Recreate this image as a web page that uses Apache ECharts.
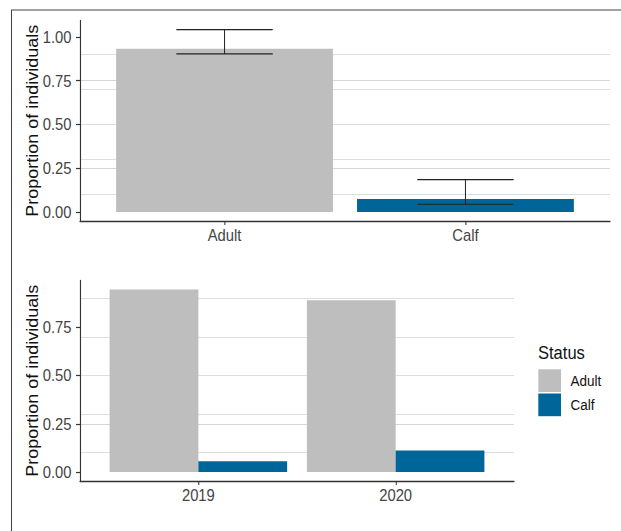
<!DOCTYPE html>
<html>
<head>
<meta charset="utf-8">
<script src="https://cdn.jsdelivr.net/npm/echarts@6/dist/echarts.min.js"></script>
<style>
  html, body { margin: 0; padding: 0; background: #fff; overflow: hidden; }
  #chart { height: 531px; transform-origin: 0 0; }
</style>
</head>
<body>
<div id="chart"></div>
<script>
// Overall proportions of each status, with confidence limits
const overallCategories = ['Adult', 'Calf'];
const overallProportion = [0.933, 0.074];
const overallLower = [0.903, 0.044];
const overallUpper = [1.042, 0.185];

// Proportions of each status per survey year
const years = ['2019', '2020'];
const adultByYear = [0.946, 0.890];
const calfByYear = [0.055, 0.111];

// Tick labels of the two proportion axes
const yTicksTop = [0, 0.25, 0.5, 0.75, 1];
const yTicksBottom = [0, 0.25, 0.5, 0.75];

const STATUS_COLORS = { Adult: '#bebebe', Calf: '#006699' };
const FONT = '"Liberation Sans", Arial, sans-serif';
const ERRORBAR_WIDTH = 0.4;   // in category units
const SQUEEZE = 0.87;         // horizontal compression of the whole figure
const sx = v => v / SQUEEZE;  // page px -> chart px (horizontal only)

const el = document.getElementById('chart');
el.style.width = sx(621) + 'px';
el.style.transform = 'scaleX(' + SQUEEZE + ')';

// ggplot-style 5% expansion of a continuous range starting at zero
function expandRange(maxVal) {
  return { min: -0.05 * maxVal, max: 1.05 * maxVal };
}
const topRange = expandRange(Math.max(...overallUpper, ...overallProportion));
const bottomRange = expandRange(Math.max(...adultByYear, ...calfByYear));

function makeXAxis(cats, gridIndex) {
  const pos = cats.map((_, i) => i + 1);
  return {
    type: 'value', gridIndex,
    min: 0.4, max: cats.length + 0.6,
    axisLine: { show: true, onZero: false, lineStyle: { color: '#333', width: 1.3 } },
    axisTick: { show: true, customValues: pos, length: 4, lineStyle: { color: '#333', width: 1.2 } },
    axisLabel: {
      customValues: pos,
      formatter: v => cats[Math.round(v) - 1],
      color: '#444', fontSize: 17, fontFamily: FONT, margin: 6
    },
    splitLine: { show: false }
  };
}

function makeYAxis(range, ticks, gridIndex) {
  return {
    type: 'value', gridIndex,
    min: range.min, max: range.max,
    splitNumber: 5,
    axisLine: { show: true, onZero: false, lineStyle: { color: '#333', width: 1.3 } },
    axisTick: { show: true, customValues: ticks, length: sx(4), lineStyle: { color: '#333', width: 1.2 } },
    axisLabel: {
      customValues: ticks,
      formatter: v => v.toFixed(2),
      color: '#444', fontSize: 17, fontFamily: FONT, margin: sx(8.5)
    },
    splitLine: { show: true, showMinLine: false, showMaxLine: false, lineStyle: { color: '#d6d6d6', width: 1.2 } },
    minorTick: { show: false, splitNumber: 2 },
    minorSplitLine: { show: true, lineStyle: { color: '#dedede', width: 1.2 } },
    name: 'Proportion of individuals',
    nameLocation: 'middle', nameRotate: 90, nameGap: 45,
    nameMoveOverlap: false,
    nameTextStyle: { fontSize: 18, color: '#111', fontFamily: FONT }
  };
}

// Overall bars: one series per status, overlapped in the same slot
const overallSeries = overallCategories.map((cat, i) => ({
  name: cat, type: 'bar', xAxisIndex: 0, yAxisIndex: 0,
  barWidth: '90%', barGap: '-100%',
  itemStyle: { color: STATUS_COLORS[cat] },
  data: [[i + 1, overallProportion[i]]]
}));

const errorBarSeries = {
  type: 'custom', xAxisIndex: 0, yAxisIndex: 0, silent: true, z: 5,
  encode: { x: 0, y: [1, 2] },
  data: overallCategories.map((_, i) => [i + 1, overallLower[i], overallUpper[i]]),
  renderItem(params, api) {
    const x = api.value(0);
    const lo = api.coord([x, api.value(1)]);
    const hi = api.coord([x, api.value(2)]);
    const half = api.size([ERRORBAR_WIDTH, 0])[0] / 2;
    const style = { stroke: '#222', lineWidth: 1.15 };
    return {
      type: 'group',
      children: [
        { type: 'line', shape: { x1: hi[0], y1: hi[1], x2: lo[0], y2: lo[1] }, style },
        { type: 'line', shape: { x1: hi[0] - half, y1: hi[1], x2: hi[0] + half, y2: hi[1] }, style },
        { type: 'line', shape: { x1: lo[0] - half, y1: lo[1], x2: lo[0] + half, y2: lo[1] }, style }
      ]
    };
  }
};

// Yearly bars: dodged side by side within each year
const yearlySeries = [
  { name: 'Adult', values: adultByYear },
  { name: 'Calf', values: calfByYear }
].map(s => ({
  name: s.name, type: 'bar', xAxisIndex: 1, yAxisIndex: 1,
  barWidth: '45%', barGap: '0%',
  itemStyle: { color: STATUS_COLORS[s.name] },
  data: years.map((_, i) => [i + 1, s.values[i]])
}));

const chart = echarts.init(el, null, { renderer: 'svg' });
chart.setOption({
  animation: false,
  backgroundColor: '#fff',
  textStyle: { fontFamily: FONT },
  title: {
    text: 'Status', left: sx(538), top: 343, padding: 0,
    textStyle: { fontSize: 19, fontWeight: 'normal', color: '#111', fontFamily: FONT }
  },
  legend: {
    data: ['Adult', 'Calf'],
    orient: 'vertical', left: sx(538.3), top: 369.3, padding: 0,
    icon: 'rect', itemWidth: sx(22.7), itemHeight: 22.7, itemGap: 1.5,
    selectedMode: false,
    textStyle: { fontSize: 15.5, color: '#111', fontFamily: FONT, padding: [0, 0, 0, 6] }
  },
  grid: [
    { left: sx(80), width: sx(530), top: 20.5, height: 200.6 },
    { left: sx(80), width: sx(434), top: 280.4, height: 200.7 }
  ],
  xAxis: [makeXAxis(overallCategories, 0), makeXAxis(years, 1)],
  yAxis: [makeYAxis(topRange, yTicksTop, 0), makeYAxis(bottomRange, yTicksBottom, 1)],
  series: [...overallSeries, errorBarSeries, ...yearlySeries],
  graphic: [{
    type: 'rect', silent: true, z: -1,
    shape: { x: sx(11.5), y: 10, width: 2000, height: 2000 },
    style: { fill: 'none', stroke: '#444', lineWidth: 1.2 }
  }]
});
</script>
</body>
</html>
